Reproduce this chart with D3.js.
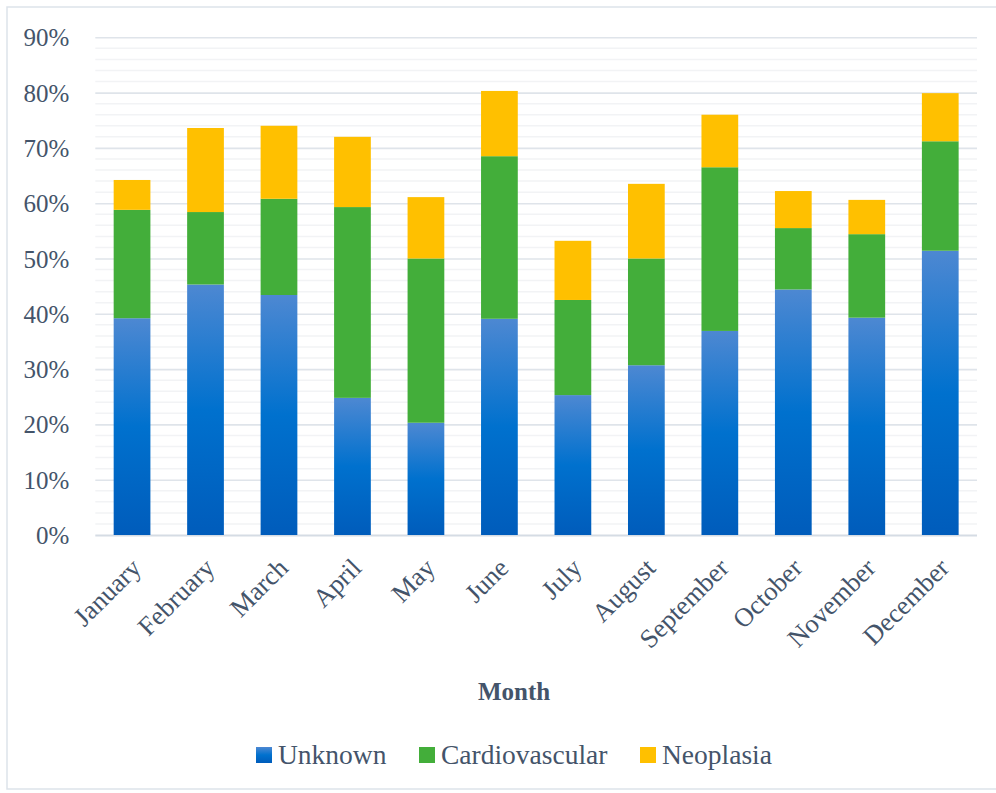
<!DOCTYPE html>
<html>
<head>
<meta charset="utf-8">
<script src="https://cdn.jsdelivr.net/npm/d3@7"></script>
<style>
  html, body { margin: 0; padding: 0; background: #fff; }
  svg { display: block; }
  text { font-family: "Palatino Linotype", "Book Antiqua", Palatino, "Liberation Serif", serif; fill: #44546a; }
</style>
</head>
<body>
<svg id="chart" width="996" height="793"></svg>
<script>
const months = ["January","February","March","April","May","June","July","August","September","October","November","December"];
const unknown        = [39.2, 45.3, 43.4, 24.8, 20.3, 39.1, 25.3, 30.7, 36.9, 44.4, 39.3, 51.4];
const cardiovascular = [19.6, 13.1, 17.4, 34.5, 29.7, 29.4, 17.2, 19.3, 29.6, 11.1, 15.1, 19.8];
const neoplasia      = [ 5.4, 15.2, 13.2, 12.7, 11.1, 11.8, 10.7, 13.5,  9.5,  6.7,  6.2,  8.7];
const seriesNames = ["Unknown", "Cardiovascular", "Neoplasia"];
const yTicks = [0,10,20,30,40,50,60,70,80,90];
const xTitle = "Month";

const colors = { Unknown: "url(#blueGrad)", Cardiovascular: "#43ae3a", Neoplasia: "#ffc000" };

const svg = d3.select("#chart");
const defs = svg.append("defs");
const grad = defs.append("linearGradient").attr("id","blueGrad")
  .attr("x1",0).attr("y1",0).attr("x2",0).attr("y2",1);
grad.append("stop").attr("offset","0%").attr("stop-color","#4d88d2");
grad.append("stop").attr("offset","50%").attr("stop-color","#0071ce");
grad.append("stop").attr("offset","100%").attr("stop-color","#005cbb");

// chart border
svg.append("rect").attr("x",7).attr("y",7).attr("width",1000).attr("height",782)
  .attr("fill","none").attr("stroke","#dde3ea").attr("stroke-width",1.5);

const x = d3.scaleBand().domain(months).range([95.3, 977]).paddingInner(0.5).paddingOuter(0.25);
const y = d3.scaleLinear().domain([0, 90]).range([535, 37.3]);

// minor gridlines
const minor = d3.range(2, 90, 2).filter(v => v % 10 !== 0);
svg.append("g").selectAll("line").data(minor).join("line")
  .attr("x1", 95.3).attr("x2", 977)
  .attr("y1", d => y(d)).attr("y2", d => y(d))
  .attr("stroke", "#f2f3f5").attr("stroke-width", 1.5);

// major gridlines via axis
const yAxis = d3.axisLeft(y).tickValues(yTicks).tickSize(-(977 - 95.3)).tickFormat(d => d + "%");
const gy = svg.append("g").attr("transform", "translate(95.3,0)").call(yAxis);
gy.select(".domain").remove();
gy.selectAll(".tick line").attr("stroke", d => d === 0 ? "#d5dce4" : "#dfe4ea").attr("stroke-width", d => d === 0 ? 2 : 1.6);
gy.selectAll(".tick text").attr("x", -26).attr("dy", "0.34em")
  .style("font-size", "25px").style("fill", "#44546a").style("font-family", null);

// stacked data
const rows = months.map((m, i) => ({ month: m, Unknown: unknown[i], Cardiovascular: cardiovascular[i], Neoplasia: neoplasia[i] }));
const stack = d3.stack().keys(seriesNames)(rows);

svg.append("g").selectAll("g").data(stack).join("g")
  .attr("fill", d => colors[d.key])
  .selectAll("rect").data(d => d).join("rect")
  .attr("x", d => x(d.data.month))
  .attr("width", x.bandwidth())
  .attr("y", d => y(d[1]))
  .attr("height", d => y(d[0]) - y(d[1]));

// x axis labels
const xAxis = d3.axisBottom(x).tickSize(0);
const gx = svg.append("g").attr("transform", "translate(0,535)").call(xAxis);
gx.select(".domain").remove();
gx.selectAll(".tick text")
  .attr("text-anchor", "end")
  .attr("transform", "translate(4,28) rotate(-45)")
  .attr("x", 0).attr("y", 0).attr("dy", "0.35em")
  .style("font-size", "26.5px").style("fill", "#44546a").style("font-family", null);

// x title
svg.append("text").attr("x", 514).attr("y", 700).attr("text-anchor", "middle")
  .style("font-size", "25px").style("font-weight", "bold").text(xTitle);

// legend
const legendX = [256, 419, 640];
const lg = svg.append("g").selectAll("g").data(seriesNames).join("g")
  .attr("transform", (d, i) => `translate(${legendX[i]},747)`);
lg.append("rect").attr("width", 16).attr("height", 16).attr("fill", d => colors[d]);
lg.append("text").attr("x", 22).attr("y", 16.5).style("font-size", "27.5px").text(d => d);
</script>
</body>
</html>
